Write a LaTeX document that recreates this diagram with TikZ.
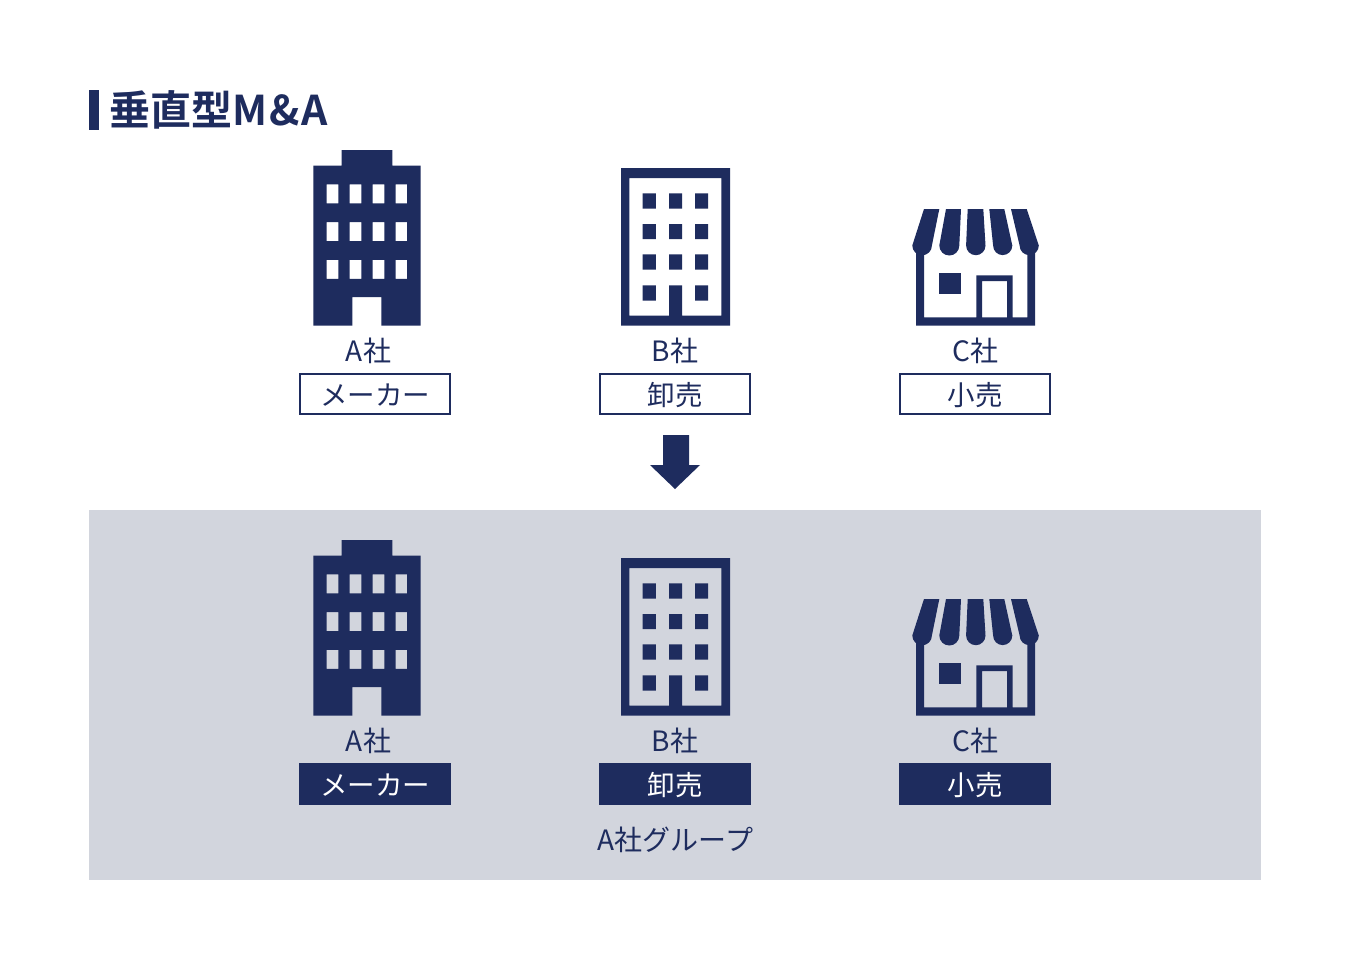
\documentclass[tikz,border=0pt]{standalone}
\usepackage{fontspec}
\setmainfont{Noto Sans CJK JP}
\newfontfamily\boldjp{Noto Sans CJK JP Bold}
\definecolor{navy}{HTML}{1E2C5E}
\definecolor{panel}{HTML}{D2D5DD}
\tikzset{
  x=1pt,y=-1pt,
  solid shape/.style={fill=navy,draw=none,even odd rule},
  caption/.style={text=navy,font=\fontsize{28}{28}\selectfont,inner sep=0pt,anchor=center},
  openbox/.style={draw=navy,line width=2pt,fill=white,minimum width=150pt,minimum height=40pt,inner sep=0pt,text=navy,font=\fontsize{27.5}{28}\selectfont},
  filledbox/.style={draw=none,fill=navy,minimum width=152pt,minimum height=42pt,inner sep=0pt,text=white,font=\fontsize{27.5}{28}\selectfont},
  pics/tower/.style={code={
    \path[solid shape]
      (341.5,150)--(392.3,150)--(392.3,165.7)--(420.7,165.7)--(420.7,325.7)--(381.3,325.7)--(381.3,297)--(352.3,297)--(352.3,325.7)--(313.3,325.7)--(313.3,165.7)--(341.5,165.7)--cycle
      \foreach \wy in {184.3,222,259.8}{\foreach \wx in {326.7,349.7,372.7,395.5}{
        (\wx,\wy) rectangle ++(11.7,19)}};
  }},
  pics/office/.style={code={
    \path[solid shape]
      (621,168) rectangle (730,325.7)
      (629.3,178)--(629.3,315.5)--(669,315.5)--(669,285.3)--(682,285.3)--(682,315.5)--(721.3,315.5)--(721.3,178)--cycle;
    \path[solid shape]
      \foreach \wy in {193.3,224,254.3}{\foreach \wx in {642.7,669,695}{
        (\wx,\wy) rectangle ++(13.2,15.2)}}
      (642.7,285.3) rectangle ++(13.2,15.2)
      (695,285.3) rectangle ++(13.2,15.2);
  }},
  pics/shop/.style={code={
    \path[solid shape] (916,250)--(924,250)--(924,317.3)--(976.3,317.3)--(976.3,275.3)--(1012.7,275.3)--(1012.7,317.3)--(1027.3,317.3)--(1027.3,250)--(1035,250)--(1035,325.7)--(916,325.7)--cycle
      (982,281) rectangle (1007,317.3);
    \path[solid shape] (939.3,272.5) rectangle (960.5,293.9);
    \path[solid shape] (924,209)--(939.3,209)--(931.9,245.5) arc[start angle=0,end angle=180,radius=9.8]--cycle;
    \path[solid shape] (946,209)--(961,209)--(959.3,245.5) arc[start angle=0,end angle=180,radius=10]--cycle;
    \path[solid shape] (967.7,209)--(983.3,209)--(985.5,245.5) arc[start angle=0,end angle=180,radius=9.7]--cycle;
    \path[solid shape] (989.3,209)--(1004.3,209)--(1012.3,245.5) arc[start angle=0,end angle=180,radius=9.6]--cycle;
    \path[solid shape] (1011,209)--(1026.7,209)--(1038.8,245.5) arc[start angle=0,end angle=180,radius=9.6]--cycle;
  }},
}
\newcommand{\latinpart}[1]{{\addfontfeature{LetterSpace=5}#1}}
\newcommand{\boxtext}[1]{\raisebox{-1pt}[\height][\depth]{#1}}
\begin{document}
\begin{tikzpicture}
\useasboundingbox (0,0) rectangle (1350,970);
\fill[white] (0,0) rectangle (1350,970);
% panel
\fill[panel] (89,510) rectangle (1261,880);
% title
\fill[navy] (89,90) rectangle (99,130);
\node[anchor=west,inner sep=0pt,text=navy,font=\boldjp\fontsize{41}{41}\selectfont] (title) at (109,110) {垂直型\latinpart{M\&A}};
% upper row
\pic {tower};
\pic {office};
\pic {shop};
\node[caption] (a1) at (369,350.5) {A\kern1pt 社};
\node[caption] (b1) at (675,350.5) {B\kern1pt 社};
\node[caption] (c1) at (975.5,350.5) {C\kern1pt 社};
\node[openbox] (ra1) at (375,394) {\boxtext{メーカー}};
\node[openbox] (rb1) at (675,394) {\boxtext{卸売}};
\node[openbox] (rc1) at (975,394) {\boxtext{小売}};
% arrow
\fill[navy] (663,435)--(689,435)--(689,465)--(700,465)--(675,489)--(650,465)--(663,465)--cycle;
% lower row
\begin{scope}[yshift=-390pt]
\pic {tower};
\pic {office};
\pic {shop};
\end{scope}
\node[caption] (a2) at (369,740.5) {A\kern1pt 社};
\node[caption] (b2) at (675,740.5) {B\kern1pt 社};
\node[caption] (c2) at (975.5,740.5) {C\kern1pt 社};
\node[filledbox] (ra2) at (375,784) {\boxtext{メーカー}};
\node[filledbox] (rb2) at (675,784) {\boxtext{卸売}};
\node[filledbox] (rc2) at (975,784) {\boxtext{小売}};
\node[caption] (group) at (675.5,839.5) {A社グループ};
\end{tikzpicture}
\end{document}
